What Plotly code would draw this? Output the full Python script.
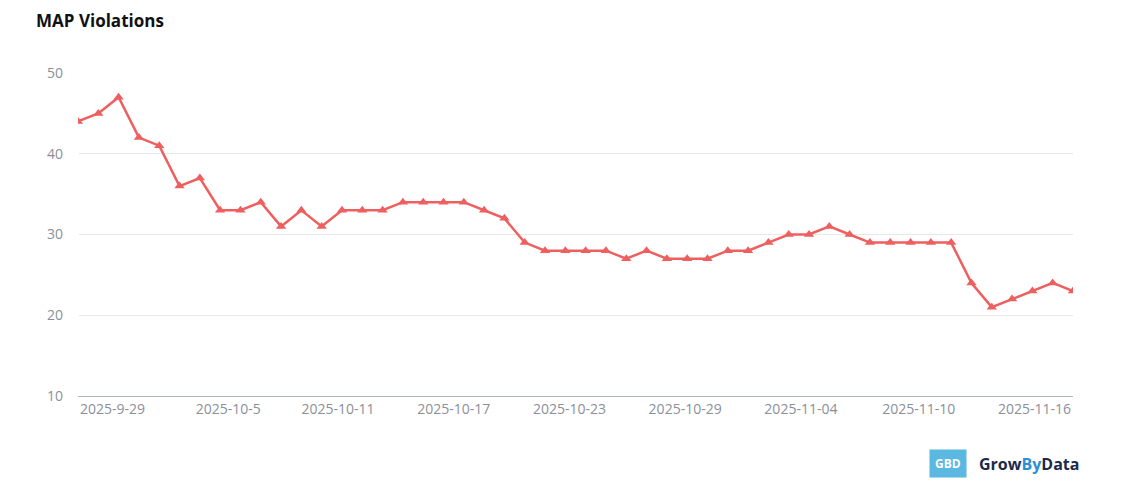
import plotly.graph_objects as go

# --- DATA ---
violations = [44, 45, 47, 42, 41, 36, 37, 33, 33, 34, 31, 33, 31, 33, 33, 33, 34, 34,
              34, 34, 33, 32, 29, 28, 28, 28, 28, 27, 28, 27, 27, 27, 28, 28, 29, 30,
              30, 31, 30, 29, 29, 29, 29, 29, 24, 21, 22, 23, 24, 23]
point_idx = list(range(len(violations)))
# label positions (in point units)
tick_pos = [1.7, 7.4, 12.8, 18.5, 24.2, 29.9, 35.6, 41.4, 47.1]
tick_labels = ["2025-9-29", "2025-10-5", "2025-10-11", "2025-10-17", "2025-10-23",
               "2025-10-29", "2025-11-04", "2025-11-10", "2025-11-16"]

fig = go.Figure()
fig.add_trace(go.Scatter(
    x=point_idx, y=violations, mode="lines+markers",
    line=dict(color="#ee5f5f", width=2.5),
    marker=dict(symbol="triangle-up", size=9, color="#ee5f5f"),
    hoverinfo="y",
))

fig.update_layout(
    width=1123, height=487,
    plot_bgcolor="white", paper_bgcolor="white",
    margin=dict(l=70, r=58, t=65, b=99),
    showlegend=False,
    font=dict(family="Open Sans", color="#8a8f99", size=14),
    title=dict(text="<b>MAP Violations</b>", x=0.025, y=0.985, xanchor="left", yanchor="top",
               font=dict(size=17, color="#111111", family="Open Sans")),
)
fig.update_xaxes(
    range=[0, len(violations) - 1], automargin=False,
    tickvals=tick_pos, ticktext=tick_labels,
    showgrid=False, showline=True, linecolor="#b0b4bb", ticks="",
)
fig.update_yaxes(
    range=[10, 50], tickvals=[10, 20, 30, 40, 50], automargin=False,
    showgrid=True, gridcolor="#e6e8ec", zeroline=False, ticks="",
    ticklabelstandoff=14,
)
fig.add_annotation(
    text="<b>Grow<span style='color:#2b8fd6'>By</span>Data</b>",
    xref="paper", yref="paper", x=1.008, y=-0.21, xanchor="right", yanchor="middle",
    showarrow=False, font=dict(size=16, color="#1b2a4a", family="Open Sans"),
)
fig.add_annotation(
    text="<b>GBD</b>", xref="paper", yref="paper", x=0.893, y=-0.21,
    xanchor="right", yanchor="middle", showarrow=False,
    font=dict(size=12, color="white"), bgcolor="#5bb8e0", borderpad=5,
)

fig.write_html("out.html")
